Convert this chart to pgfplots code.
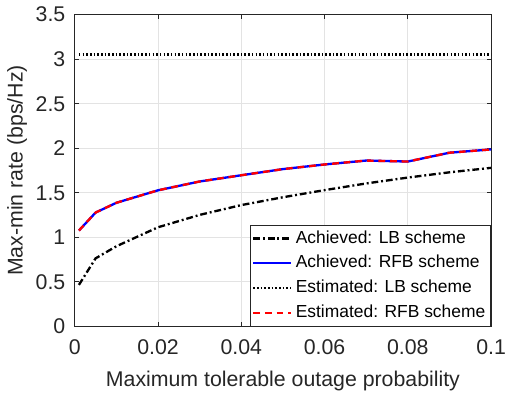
\documentclass[border=0pt]{standalone}
\usepackage{pgfplots}
\pgfplotsset{compat=1.18}
\usepackage{fontspec}
\setmainfont{Liberation Sans}
\definecolor{mgray}{RGB}{38,38,38}
\begin{document}
\fontsize{11}{13}\selectfont
\begin{tikzpicture}
\begin{axis}[
  scale only axis,
  width=215pt, height=161pt,
  xmin=0, xmax=0.1, ymin=0, ymax=3.5,
  xtick={0,0.02,0.04,0.06,0.08,0.1},
  xticklabels={0,0.02,0.04,0.06,0.08,0.1},
  ytick={0,0.5,1,1.5,2,2.5,3,3.5},
  yticklabels={0,0.5,1,1.5,2,2.5,3,3.5},
  tick label style={text=mgray},
  xticklabel style={yshift=-3pt},
  yticklabel style={xshift=-1pt},
  label style={text=mgray},
  tick align=inside,
  tick style={mgray, line width=0.4pt},
  major tick length=2.2pt,
  grid=major,
  grid style={gray!22, line width=0.4pt},
  axis line style={mgray, line width=0.5pt},
  xlabel={Maximum tolerable outage probability},
  ylabel={Max-min rate (bps/Hz)},
  xlabel style={yshift=-1pt},
  ylabel style={yshift=-3pt},
  legend style={at={(1,0)}, anchor=south east, draw=mgray, inner sep=0.8pt, row sep=0.6pt, font=\fontsize{9}{11}\selectfont},
  legend cell align=left,
  legend image code/.code={\draw[#1] (0cm,0cm) -- (0.68cm,0cm);},
]
\addplot[black, line width=1.2pt, dash pattern=on 3.5pt off 1.5pt on 1pt off 1.5pt] coordinates {
(0.001,0.466) (0.005,0.764) (0.01,0.90) (0.02,1.113) (0.03,1.252) (0.04,1.362) (0.05,1.45) (0.06,1.53) (0.07,1.605) (0.08,1.671) (0.09,1.73) (0.1,1.78)};
\addlegendentry{Achieved: LB scheme}
\addplot[blue, line width=1.2pt] coordinates {
(0.001,1.076) (0.005,1.278) (0.01,1.388) (0.02,1.528) (0.03,1.627) (0.04,1.697) (0.05,1.766) (0.06,1.818) (0.07,1.862) (0.08,1.851) (0.09,1.95) (0.1,1.987)};
\addlegendentry{Achieved: RFB scheme}
\addplot[black, line width=1.1pt, dash pattern=on 0.8pt off 1.1pt] coordinates {
(0.001,3.052) (0.1,3.052)};
\addlegendentry{Estimated: LB scheme}
\addplot[red, line width=1.2pt, dash pattern=on 3.5pt off 2.5pt] coordinates {
(0.001,1.076) (0.005,1.278) (0.01,1.388) (0.02,1.528) (0.03,1.627) (0.04,1.697) (0.05,1.766) (0.06,1.818) (0.07,1.862) (0.08,1.851) (0.09,1.95) (0.1,1.987)};
\addlegendentry{Estimated: RFB scheme}
\end{axis}
\end{tikzpicture}
\end{document}
